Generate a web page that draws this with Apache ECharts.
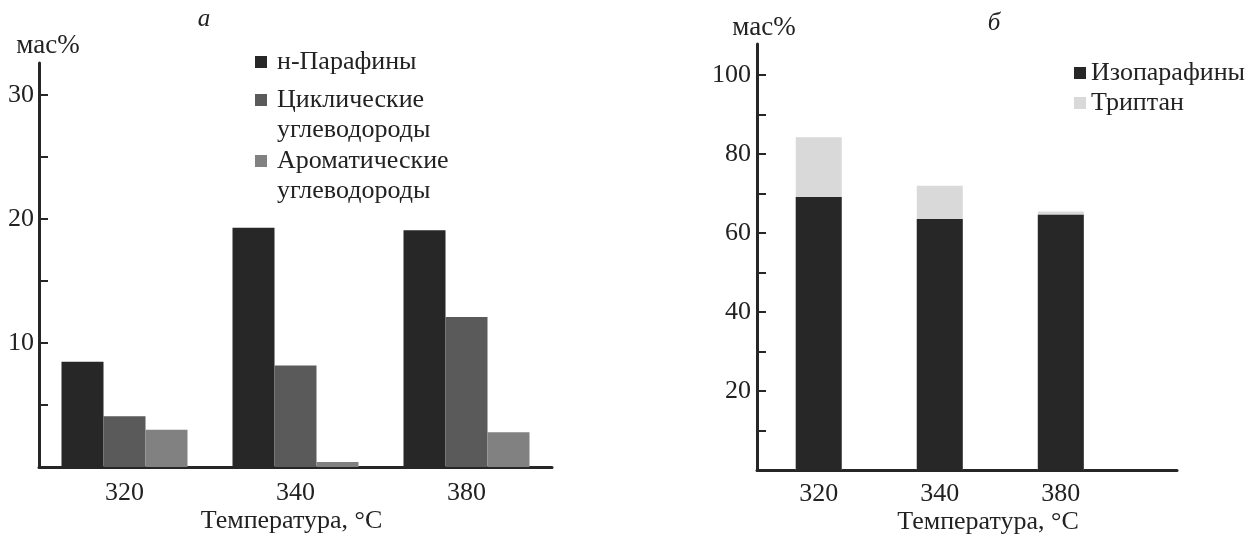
<!DOCTYPE html>
<html>
<head>
<meta charset="utf-8">
<script src="https://cdn.jsdelivr.net/npm/echarts@6/dist/echarts.min.js"></script>
<style>
html,body{margin:0;padding:0;background:#fff;}
#chart{width:1252px;height:534px;}
</style>
</head>
<body>
<div id="chart"></div>
<script>
// ---- data ----
const categories = ['320', '340', '380'];
const nParaffins = [8.5, 19.3, 19.1];
const cyclic = [4.1, 8.2, 12.1];
const aromatic = [3.0, 0.4, 2.8];
const isoparaffins = [69.1, 63.5, 64.6];
const triptane = [15.1, 8.4, 0.8];
const leftYTicks = [5, 10, 15, 20, 25, 30];
const leftYLabels = [10, 20, 30];
const rightYTicks = [10, 20, 30, 40, 50, 60, 70, 80, 90, 100];
const rightYLabels = [20, 40, 60, 80, 100];
const xName = 'Температура, °C';
const yName = 'мас%';
const seriesNames = ['н-Парафины', 'Циклические\nуглеводороды', 'Ароматические\nуглеводороды', 'Изопарафины', 'Триптан'];

const FONT = 'Liberation Serif';
const INK = '#222';
const AXIS = '#262626';

const chart = echarts.init(document.getElementById('chart'), null, {renderer: 'canvas'});

// stacked top of each right-panel bar (isoparaffins + triptane)
const rightTotals = isoparaffins.map(function (v, i) { return v + triptane[i]; });

const yAxisCommon = {
  type: 'value',
  min: 0,
  splitLine: {show: false},
  axisLine: {show: true, onZero: false, lineStyle: {color: AXIS, width: 3}},
  axisTick: {show: true, inside: true, length: 9, lineStyle: {color: AXIS, width: 2}},
  nameLocation: 'end',
  nameMoveOverlap: false,
  nameTextStyle: {fontFamily: FONT, fontSize: 27, color: INK}
};

const legendText = {fontFamily: FONT, fontSize: 26, color: INK, lineHeight: 30};

const option = {
  backgroundColor: '#fff',
  animation: false,
  title: [
    {text: 'а', left: 204, top: 7, padding: 0, textAlign: 'center',
     textStyle: {fontFamily: FONT, fontStyle: 'italic', fontWeight: 'normal', fontSize: 25, color: INK}},
    {text: 'б', left: 994, top: 11, padding: 0, textAlign: 'center',
     textStyle: {fontFamily: FONT, fontStyle: 'italic', fontWeight: 'normal', fontSize: 25, color: INK}}
  ],
  legend: [
    {
      orient: 'vertical', left: 255, top: 40, padding: 0,
      itemWidth: 12, itemHeight: 12, itemGap: -29,
      selectedMode: false, icon: 'rect',
      data: [
        {name: seriesNames[0], textStyle: Object.assign({}, legendText, {padding: [7, 0, 7, 5]})},
        {name: seriesNames[1]},
        {name: seriesNames[2]}
      ],
      formatter: function (n) { return n.indexOf('\n') >= 0 ? '\n' + n : n; },
      textStyle: Object.assign({}, legendText, {padding: [0, 0, 0, 5]})
    },
    {
      orient: 'vertical', left: 1074, top: 58, padding: 0,
      itemWidth: 12, itemHeight: 12, itemGap: 0,
      selectedMode: false, icon: 'rect',
      data: [seriesNames[3], seriesNames[4]],
      textStyle: legendText
    }
  ],
  grid: [
    {left: 39, top: 63, width: 513, height: 404, outerBoundsMode: 'none'},
    {left: 757, top: 44, width: 420, height: 426, outerBoundsMode: 'none'}
  ],
  xAxis: [
    {
      gridIndex: 0, type: 'category', data: categories,
      axisLine: {show: true, lineStyle: {color: AXIS, width: 3}},
      axisTick: {show: false},
      axisLabel: {fontFamily: FONT, fontSize: 26, color: INK, margin: 13},
      name: xName, nameLocation: 'middle', nameGap: 41, nameMoveOverlap: false,
      nameTextStyle: {fontFamily: FONT, fontSize: 26, color: INK, padding: [0, 0, 0, -8]}
    },
    {
      gridIndex: 1, type: 'value', min: -0.51, max: 2.96,
      splitLine: {show: false},
      axisLine: {show: true, onZero: false, lineStyle: {color: AXIS, width: 3}},
      axisTick: {show: false},
      axisLabel: {
        fontFamily: FONT, fontSize: 26, color: INK, margin: 11,
        customValues: [0, 1, 2],
        formatter: function (v) { return categories[Math.round(v)]; }
      },
      name: xName, nameLocation: 'middle', nameGap: 39, nameMoveOverlap: false,
      nameTextStyle: {fontFamily: FONT, fontSize: 26, color: INK, padding: [0, 0, 0, 42]}
    }
  ],
  yAxis: [
    Object.assign({}, yAxisCommon, {
      gridIndex: 0, max: 32.6,
      axisTick: Object.assign({}, yAxisCommon.axisTick, {customValues: leftYTicks}),
      axisLabel: {fontFamily: FONT, fontSize: 26, color: INK, margin: 5, customValues: leftYLabels},
      name: yName, nameGap: 4,
      nameTextStyle: Object.assign({}, yAxisCommon.nameTextStyle, {padding: [0, 0, 0, 18]})
    }),
    Object.assign({}, yAxisCommon, {
      gridIndex: 1, max: 107.8,
      axisTick: Object.assign({}, yAxisCommon.axisTick, {customValues: rightYTicks}),
      axisLabel: {fontFamily: FONT, fontSize: 26, color: INK, margin: 6, customValues: rightYLabels},
      name: yName, nameGap: 3,
      nameTextStyle: Object.assign({}, yAxisCommon.nameTextStyle, {padding: [0, 0, 0, 14]})
    })
  ],
  series: [
    {name: seriesNames[0], type: 'bar', xAxisIndex: 0, yAxisIndex: 0, data: nParaffins,
     barWidth: 42, barGap: '0%', itemStyle: {color: '#272727'}},
    {name: seriesNames[1], type: 'bar', xAxisIndex: 0, yAxisIndex: 0, data: cyclic,
     barWidth: 42, barGap: '0%', itemStyle: {color: '#5a5a5a'}},
    {name: seriesNames[2], type: 'bar', xAxisIndex: 0, yAxisIndex: 0, data: aromatic,
     barWidth: 42, barGap: '0%', itemStyle: {color: '#818181'}},
    // Триптан segment sits on top of Изопарафины: drawn as the full stack height behind it
    {name: seriesNames[4], type: 'bar', xAxisIndex: 1, yAxisIndex: 1, z: 1,
     data: rightTotals.map(function (v, i) { return [i, v]; }),
     barWidth: 46, barGap: '-100%', itemStyle: {color: '#d9d9d9'}},
    {name: seriesNames[3], type: 'bar', xAxisIndex: 1, yAxisIndex: 1, z: 2,
     data: isoparaffins.map(function (v, i) { return [i, v]; }),
     barWidth: 46, barGap: '-100%', itemStyle: {color: '#272727'}}
  ]
};

chart.setOption(option);
</script>
</body>
</html>
